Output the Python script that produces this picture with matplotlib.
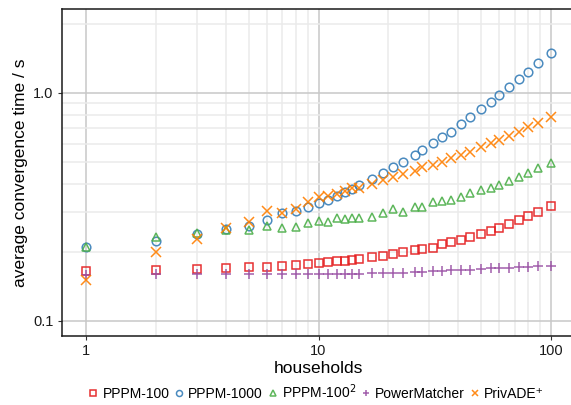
import numpy as np
import matplotlib
matplotlib.use("Agg")
from matplotlib import pyplot as plt
from matplotlib.ticker import FixedLocator, NullFormatter

plt.rcParams['font.family'] = ['Liberation Sans', 'DejaVu Sans']

households = [1, 2, 3, 4, 5, 6, 7, 8, 9, 10, 11, 12, 13, 14, 15, 17, 19, 21,
              23, 26, 28, 31, 34, 37, 41, 45, 50, 55, 60, 66, 73, 80, 88, 100]

pppm_100 = [0.166, 0.167, 0.169, 0.171, 0.172, 0.173, 0.175, 0.176, 0.178, 0.180,
            0.181, 0.183, 0.184, 0.185, 0.187, 0.190, 0.192, 0.197, 0.200, 0.205,
            0.207, 0.210, 0.217, 0.221, 0.226, 0.234, 0.241, 0.249, 0.257, 0.266,
            0.277, 0.290, 0.302, 0.319]
pppm_1000 = [0.211, 0.224, 0.240, 0.252, 0.261, 0.277, 0.297, 0.305, 0.317, 0.330,
             0.339, 0.354, 0.367, 0.380, 0.395, 0.420, 0.445, 0.472, 0.497, 0.535,
             0.562, 0.602, 0.639, 0.676, 0.731, 0.782, 0.851, 0.916, 0.980, 1.06,
             1.15, 1.24, 1.35, 1.50]
pppm_100sq = [0.211, 0.234, 0.242, 0.251, 0.251, 0.261, 0.257, 0.259, 0.269, 0.275,
              0.272, 0.282, 0.279, 0.282, 0.284, 0.287, 0.299, 0.309, 0.302, 0.317,
              0.317, 0.331, 0.336, 0.339, 0.351, 0.363, 0.375, 0.382, 0.395, 0.412,
              0.430, 0.445, 0.470, 0.495]
powermatcher = [0.159, 0.160, 0.160, 0.160, 0.160, 0.160, 0.160, 0.161, 0.161, 0.161,
                0.161, 0.161, 0.161, 0.161, 0.161, 0.162, 0.162, 0.163, 0.163, 0.164,
                0.164, 0.165, 0.166, 0.167, 0.167, 0.168, 0.169, 0.170, 0.170, 0.171,
                0.173, 0.173, 0.174, 0.175]
privade = [0.151, 0.201, 0.229, 0.257, 0.273, 0.305, 0.299, 0.309, 0.331, 0.350,
           0.354, 0.361, 0.373, 0.382, 0.382, 0.399, 0.415, 0.430, 0.440, 0.456,
           0.475, 0.483, 0.500, 0.517, 0.535, 0.553, 0.578, 0.602, 0.622, 0.648,
           0.676, 0.707, 0.736, 0.787]

series = [
    ("PPPM-100", pppm_100, "s", "#E41A1C"),
    ("PPPM-1000", pppm_1000, "o", "#377EB8"),
    ("PPPM-100$^2$", pppm_100sq, "^", "#4DAF4A"),
    ("PowerMatcher", powermatcher, "+", "#984EA3"),
    ("PrivADE\u207a", privade, "x", "#FF7F00"),
]

fig = plt.figure(figsize=(5.71, 4.05), dpi=100)
ax = fig.add_axes([62 / 571, 1 - 336 / 405, 512 / 571, 327 / 405])

for label, vals, mk, col in series:
    if mk in ("+", "x"):
        ax.plot(households, vals, linestyle="none", marker=mk, markersize=6.5,
                markeredgewidth=1.1, color=col, alpha=0.9, label=label)
    else:
        ms = 5.6 if mk == "s" else 6.2
        ax.plot(households, vals, linestyle="none", marker=mk, markersize=ms,
                markeredgewidth=1.1, markerfacecolor="none", markeredgecolor=col,
                alpha=0.9, label=label)

ax.set_xscale("log")
ax.set_yscale("log")
ax.set_xlim(10 ** (-24 / 232.5), 10 ** (488 / 232.5))
ax.set_ylim(10 ** (-1 - 15 / 228), 10 ** (84 / 228))

ax.xaxis.set_major_locator(FixedLocator([1, 10, 100]))
ax.set_xticklabels(["1", "10", "100"])
ax.xaxis.set_minor_locator(FixedLocator([2, 3, 4, 5, 6, 7, 8, 9,
                                         20, 30, 40, 50, 60, 70, 80, 90]))
ax.xaxis.set_minor_formatter(NullFormatter())
ax.yaxis.set_major_locator(FixedLocator([0.1, 1.0]))
ax.set_yticklabels(["0.1", "1.0"])
ax.yaxis.set_minor_locator(FixedLocator([0.2, 0.3, 0.4, 0.5, 0.6, 0.7, 0.8, 0.9, 2.0]))
ax.yaxis.set_minor_formatter(NullFormatter())

ax.grid(True, which="major", color="#c8c8c8", linewidth=1.1)
ax.grid(True, which="minor", color="#ebebeb", linewidth=1.1)
ax.set_axisbelow(True)
ax.tick_params(which="major", length=3, width=0.8, color="#333333",
               labelsize=10.5, labelcolor="#1a1a1a", pad=3)
ax.tick_params(which="minor", length=0)
for s in ax.spines.values():
    s.set_linewidth(1.1)
    s.set_color("#1a1a1a")
ax.spines["right"].set_visible(False)

ax.set_xlabel("households", fontsize=12.5, labelpad=2)
ax.set_ylabel("average convergence time / s", fontsize=12.5, labelpad=4)

ax.legend(loc="center", bbox_to_anchor=(316 / 571, 1 - 392 / 405),
          bbox_transform=fig.transFigure, ncol=5, frameon=False,
          fontsize=10, markerscale=0.7, handlelength=0.7, handletextpad=0.3,
          columnspacing=0.35, borderaxespad=0)

fig.savefig("out.png", dpi=100)
